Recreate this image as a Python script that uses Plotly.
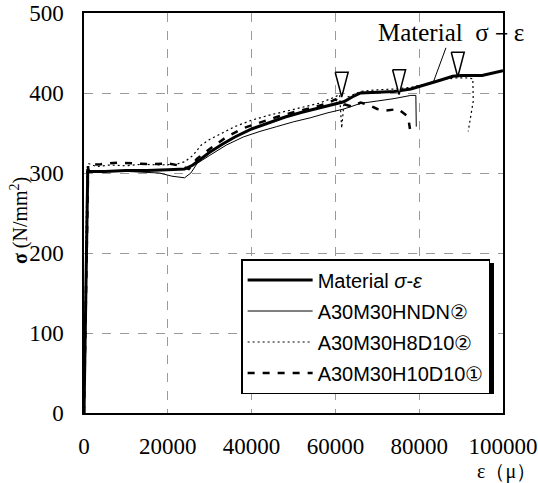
import plotly.graph_objects as go

# ---- data (strain in micro, stress in N/mm2) ----
mat_x = [0, 900, 1200, 5000, 10000, 15000, 20000, 24000, 26000, 28000, 30000, 33000, 36000,
         40000, 44000, 48000, 52000, 56000, 60000, 62000, 64000, 66000, 70000, 74000, 78000,
         82000, 85000, 88000, 90000, 95000, 100000]
mat_y = [0, 305, 302, 302, 303, 303, 304, 305, 310, 318, 326, 336, 345,
         355, 363, 370, 376, 381, 386, 389, 395, 400, 401, 402, 405,
         411, 416, 421, 422, 422, 428]

hndn_x = [0, 800, 1000, 5000, 10000, 15000, 18000, 21000, 24000, 25500, 27000, 30000, 34000,
          38000, 42000, 46000, 50000, 54000, 58000, 62000, 64000, 66000, 70000, 74000, 78000,
          79200, 79300]
hndn_y = [0, 300, 303, 302, 302, 301, 300, 296, 294, 300, 312, 322, 335,
          345, 352, 358, 364, 369, 375, 380, 384, 387, 390, 393, 397,
          397, 358]

h8_x = [0, 700, 1000, 3000, 6000, 10000, 14000, 18000, 22000, 24000, 26000, 28000, 30000,
        33000, 36000, 40000, 44000, 48000, 52000, 56000, 59000, 61000, 61500, 62000, 63000,
        66000, 70000, 74000, 78000, 82000, 86000, 89000, 91000, 92800, 92900, 91700]
h8_y = [0, 305, 312, 308, 310, 309, 311, 310, 311, 314, 322, 335, 342,
        350, 358, 366, 372, 377, 382, 387, 393, 398, 356, 385, 395,
        402, 404, 405, 407, 412, 417, 419, 419, 418, 390, 352]

h10_x = [0, 800, 1000, 4000, 8000, 12000, 16000, 20000, 23000, 25000, 27000, 30000, 34000,
         38000, 42000, 46000, 50000, 54000, 58000, 60000, 62000, 64000, 66000, 68000, 70000,
         72000, 75000, 77000, 77500, 77800]
h10_y = [0, 300, 310, 311, 313, 312, 311, 312, 309, 305, 318, 330, 345,
         356, 363, 370, 376, 381, 387, 392, 386, 383, 388, 385, 380,
         378, 380, 372, 365, 355]

# fracture markers (tip of inverted triangles)
tri_x = [61500, 75200, 89200]
tri_y = [395, 398, 420]

names = ["Material <i>σ</i>-<i>ε</i>", "A30M30HNDN②", "A30M30H8D10②", "A30M30H10D10①"]
x_ticks = [0, 20000, 40000, 60000, 80000, 100000]
y_ticks = [0, 100, 200, 300, 400, 500]

fig = go.Figure()

fig.add_trace(go.Scatter(x=h10_x, y=h10_y, mode="lines", name=names[3], legendgroup="d",
                         legendrank=4, line=dict(color="black", width=2.5, dash="7px,8px")))
fig.add_trace(go.Scatter(x=h8_x, y=h8_y, mode="lines", name=names[2], legendgroup="c",
                         legendrank=3, line=dict(color="black", width=1.2, dash="2px,3px")))
fig.add_trace(go.Scatter(x=hndn_x, y=hndn_y, mode="lines", name=names[1], legendgroup="b",
                         legendrank=2, line=dict(color="black", width=1)))
fig.add_trace(go.Scatter(x=mat_x, y=mat_y, mode="lines", name=names[0], legendgroup="a",
                         legendrank=1, line=dict(color="black", width=3)))

# inverted triangles built from the tip positions
hw, hh = 1550, 31
tx, ty = [], []
for x, y in zip(tri_x, tri_y):
    tx += [x - hw, x + hw, x, x - hw, None]
    ty += [y + hh, y + hh, y, y + hh, None]
fig.add_trace(go.Scatter(x=tx, y=ty, mode="lines", fill="toself", fillcolor="white",
                         line=dict(color="black", width=1.5), showlegend=False, hoverinfo="skip"))

serif = "Liberation Serif"

fig.update_xaxes(range=[0, 100000], tickvals=x_ticks, ticktext=[str(v) for v in x_ticks],
                 showgrid=True, gridcolor="#9a9a9a", griddash="dash", gridwidth=1,
                 showline=True, linecolor="black", linewidth=1.5, mirror=True,
                 ticks="", ticklabelstandoff=12, zeroline=False, automargin=False,
                 tickfont=dict(family=serif, size=23, color="black"))
fig.update_yaxes(range=[0, 500], tickvals=y_ticks,
                 showgrid=True, gridcolor="#9a9a9a", griddash="dash", gridwidth=1,
                 showline=True, linecolor="black", linewidth=1.5, mirror=True,
                 ticks="", ticklabelstandoff=14, zeroline=False, automargin=False,
                 tickfont=dict(family=serif, size=23, color="black"))

fig.add_annotation(x=83400, y=414, xref="x", yref="y", text="Material  σ－ε",
                   showarrow=True, arrowhead=0, arrowwidth=1, arrowcolor="black",
                   ax=18, ay=-49, font=dict(family=serif, size=25, color="black"))
fig.add_annotation(x=-0.155, y=0.48, xref="paper", yref="paper", textangle=-90,
                   xanchor="center", yanchor="middle",
                   text="<b>σ</b> (N/mm<sup>2</sup>)", showarrow=False,
                   font=dict(family=serif, size=20, color="black"))
fig.add_annotation(x=1.0095, y=-0.145, xref="paper", yref="paper", text="ε（μ）",
                   xanchor="center", yanchor="middle",
                   showarrow=False, font=dict(family=serif, size=20, color="black"))

# legend shadow
fig.add_shape(type="rect", xref="paper", yref="paper", x0=0.3842, x1=0.9785, y0=0.0475, y1=0.375,
              fillcolor="black", line=dict(width=0), layer="above")

fig.update_layout(
    width=538, height=483,
    margin=dict(l=84, r=35, t=13, b=70),
    plot_bgcolor="white", paper_bgcolor="white",
    showlegend=True,
    legend=dict(x=0.375, y=0.385, xanchor="left", yanchor="top",
                bgcolor="white", bordercolor="black", borderwidth=1.5,
                traceorder="grouped", tracegroupgap=2, itemwidth=65,
                font=dict(family="Liberation Sans", size=20, color="black")),
)

fig.write_html("out.html")
